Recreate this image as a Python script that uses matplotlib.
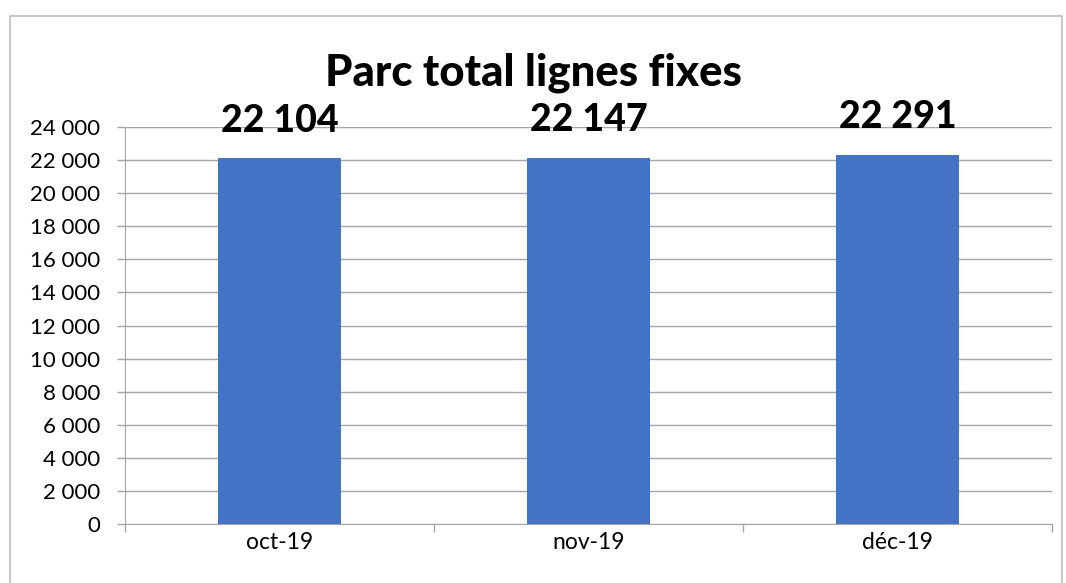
import matplotlib

matplotlib.use("Agg")
import matplotlib.pyplot as plt
from matplotlib.patches import Rectangle
from matplotlib.ticker import FuncFormatter, FixedLocator

months = ["oct-19", "nov-19", "déc-19"]
lines = [22104, 22147, 22291]
y_ticks = list(range(0, 24001, 2000))

plt.rcParams["font.family"] = ["Lato", "DejaVu Sans"]


def space_thousands(v, _pos=None):
    return f"{int(v):,}".replace(",", " ")


fig = plt.figure(figsize=(10.66, 5.83), dpi=100)
ax = fig.add_axes([125 / 1066, 1 - 524 / 583, (1052 - 125) / 1066, (524 - 127) / 583])

x = range(len(months))
ax.bar(x, lines, width=0.4, color="#4472C4", zorder=3)
for xi, v in zip(x, lines):
    ax.annotate(space_thousands(v), (xi, v), xytext=(0, 15), textcoords="offset points",
                ha="center", va="bottom", fontsize=27, fontweight="black")

ax.set_xlim(-0.5, len(months) - 0.5)
ax.set_ylim(0, 24000)
ax.set_yticks(y_ticks)
ax.yaxis.set_major_formatter(FuncFormatter(space_thousands))
ax.set_xticks(list(x))
ax.set_xticklabels(months)
ax.xaxis.set_minor_locator(FixedLocator([-0.5, 0.5, 1.5, 2.5]))
ax.tick_params(axis="x", which="major", length=0, labelsize=16.5, pad=6)
ax.tick_params(axis="x", which="minor", length=6, color="#a6a6a6", width=1)
ax.tick_params(axis="y", length=6, color="#a6a6a6", width=1, labelsize=16, pad=12)
ax.grid(axis="y", color="#a6a6a6", linewidth=1, zorder=0)
for side in ("top", "right"):
    ax.spines[side].set_visible(False)
ax.spines["left"].set_color("#a6a6a6")
ax.spines["bottom"].set_color("#a6a6a6")

fig.text(0.5, 1 - 73 / 583, "Parc total lignes fixes", ha="center", va="center",
         fontsize=31.5, fontweight="black")

fig.patches.append(Rectangle((10 / 1066, -0.01), 1052 / 1066, 1 - 16 / 583 + 0.01,
                             transform=fig.transFigure, fill=False,
                             edgecolor="#bfbfbf", linewidth=1.2))

fig.savefig("out.png", dpi=100)
plt.close(fig)
